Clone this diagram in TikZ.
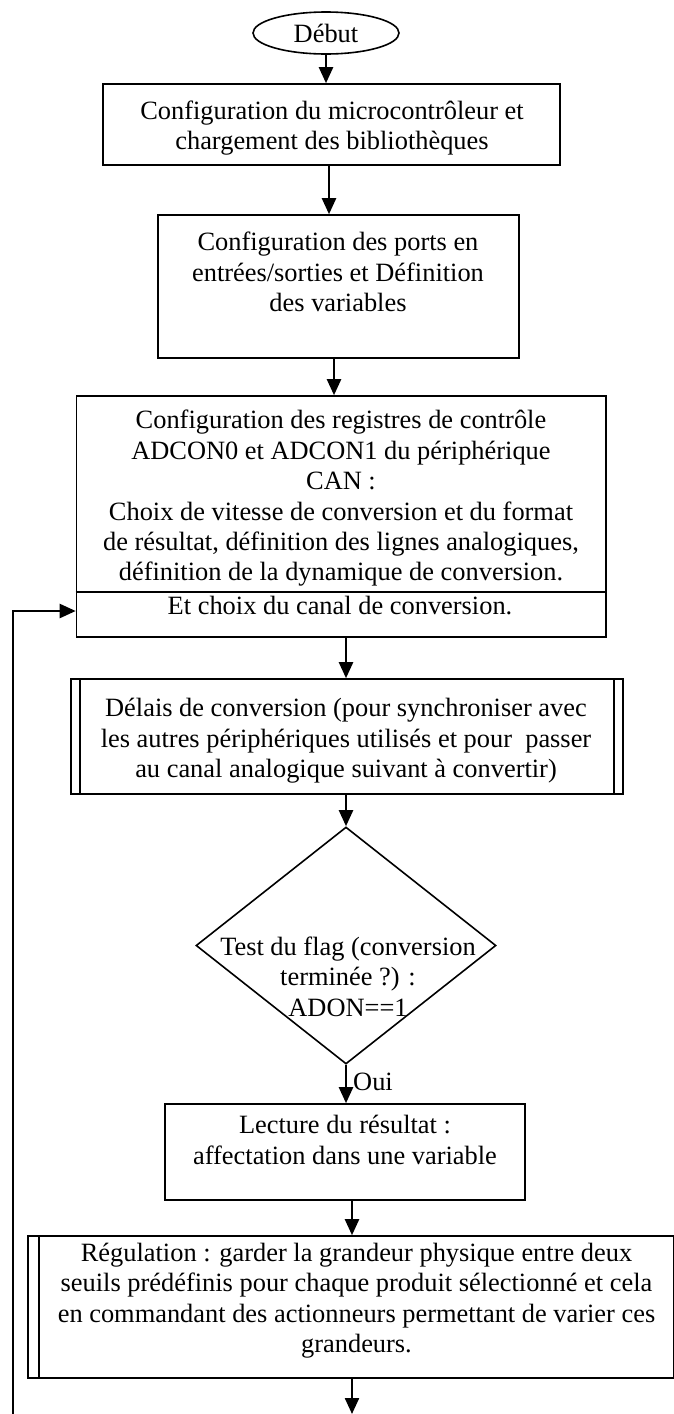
\documentclass[tikz,border=0pt]{standalone}
\usepackage{fontspec}
\setmainfont{Liberation Serif}
\usetikzlibrary{shapes.geometric,arrows.meta}
\begin{document}
\begin{tikzpicture}[x=1pt,y=-1pt,
  txt/.style={align=center, inner sep=0pt, font=\fontsize{26.4pt}{30.4pt}\selectfont},
  box/.style={draw, line width=1.6pt, rectangle, inner sep=0pt},
  bar/.style={line width=1.6pt},
  arr/.style={line width=2.3pt, -{Triangle[width=14pt,length=16pt]}}]
\useasboundingbox (0,0) rectangle (674,1414);
\clip (0,0) rectangle (674,1414);

% helper x positions
\coordinate (xa) at (329,0);
\coordinate (xb) at (334,0);
\coordinate (xc) at (346,0);
\coordinate (xd) at (352,0);
\coordinate (ya) at (0,592);
\coordinate (yb) at (0,611);

\node[draw, ellipse, line width=1.6pt, minimum width=146pt, minimum height=42pt, inner sep=0pt,
      font=\fontsize{26.4pt}{30.4pt}\selectfont] (start) at (326,33) {Début};

\node[box, minimum width=457pt, minimum height=81pt] (b1) at (331.5,124.5) {};
\node[txt] (t1) at (332,128) {Configuration du microcontrôleur et\\chargement des bibliothèques};

\node[box, minimum width=361pt, minimum height=143pt] (b2) at (338.5,286.5) {};
\node[txt] (t2) at (338,272) {Configuration des ports en\\entrées/sorties et Définition\\des variables};

\node[box, minimum width=529.5pt, minimum height=241pt] (b3) at (341.25,516.5) {};
\draw[bar] (b3.west |- ya) -- (b3.east |- ya);
\node[txt] (t3) at (341,498.5) {Configuration des registres de contrôle\\ADCON0 et ADCON1 du périphérique\\CAN :\\Choix de vitesse de conversion et du format\\de résultat, définition des lignes analogiques,\\définition de la dynamique de conversion.};
\node[txt, anchor=base] (t3b) at (340,614) {Et choix du canal de conversion.};

\node[box, minimum width=552pt, minimum height=115pt] (b4) at (347,736.5) {};
\draw[bar] ([xshift=10pt]b4.north west) -- ([xshift=10pt]b4.south west);
\draw[bar] ([xshift=-10pt]b4.north east) -- ([xshift=-10pt]b4.south east);
\node[txt] (t4) at (346,741) {Délais de conversion (pour synchroniser avec\\les autres périphériques utilisés et pour\ \ passer\\au canal analogique suivant à convertir)};

\node[draw, diamond, line width=1.6pt, minimum width=300pt, minimum height=237pt, inner sep=0pt] (d) at (346,945.5) {};
\node[txt] (t5) at (348,976.5) {Test du flag (conversion\\terminée ?) :\\ADON==1};
\node[txt, anchor=west] (oui) at (353,1082) {Oui};

\node[box, minimum width=360pt, minimum height=96pt] (b6) at (345,1152) {};
\node[txt] (t6) at (345,1140) {Lecture du résultat :\\affectation dans une variable};

\node[box, minimum width=657pt, minimum height=142pt] (b7) at (356.5,1307) {};
\draw[bar] ([xshift=12pt]b7.north west) -- ([xshift=12pt]b7.south west);
\draw[bar] ([xshift=-12pt]b7.north east) -- ([xshift=-12pt]b7.south east);
\node[txt] (t7) at (356.5,1300.5) {Régulation : garder la grandeur physique entre deux\\seuils prédéfinis pour chaque produit sélectionné et cela\\en commandant des actionneurs permettant de varier ces\\grandeurs.};

\coordinate (fin) at (352,1414);
\coordinate (loop) at (13,1414);

\draw[arr] (start.south) -- (b1.north -| start.south);
\draw[arr] (b1.south -| xa) -- (b2.north -| xa);
\draw[arr] (b2.south -| xb) -- (b3.north -| xb);
\draw[arr] (b3.south -| xc) -- (b4.north -| xc);
\draw[arr] (b4.south -| d.north) -- (d.north);
\draw[arr] (d.south) -- (b6.north -| d.south);
\draw[arr] (b6.south -| xd) -- (b7.north -| xd);
\draw[arr] (b7.south -| fin) -- (fin);
\draw[arr] (loop) |- (b3.west |- yb);
\end{tikzpicture}
\end{document}
